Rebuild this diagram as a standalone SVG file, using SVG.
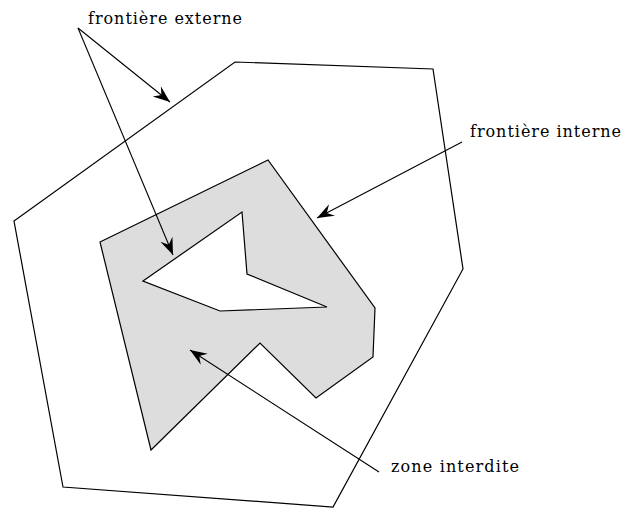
<svg xmlns="http://www.w3.org/2000/svg" width="623" height="508" viewBox="0 0 623 508">
<style>
.edge{fill:none;stroke:#000;stroke-width:1.2}
.lbl{font-family:"DejaVu Serif","Liberation Serif",serif;font-size:16px;fill:#000}
.arrow{fill:none;stroke:#000;stroke-width:1.1}
</style>
<defs>
<marker id="ah" markerUnits="userSpaceOnUse" markerWidth="20" markerHeight="14" refX="0" refY="0" viewBox="-18 -7 20 14" orient="auto">
<path d="M0,0 L-17,-6.5 L-11,0 L-17,6.5 Z" fill="#000"/>
</marker>
</defs>
<rect width="623" height="508" fill="#fff"/>
<g id="outer">
<polygon class="edge" points="235,62 433,69 463,269 333,507 63,487 14,221"/>
</g>
<g id="zone">
<path d="M100,242 L268,160 L375,308 L373,357 L316,398 L260,343 L151,450 Z M143,281 L242,212 L247,274 L327,307 L220,311 Z" fill="#dddddd" fill-rule="evenodd" stroke="#000" stroke-width="1.2"/>
</g>
<g id="connectors">
<line class="arrow" x1="78" y1="28" x2="170" y2="102" marker-end="url(#ah)"/>
<line class="arrow" x1="78" y1="28" x2="173" y2="255" marker-end="url(#ah)"/>
<line class="arrow" x1="462" y1="142" x2="317" y2="218" marker-end="url(#ah)"/>
<line class="arrow" x1="379" y1="472" x2="190" y2="350" marker-end="url(#ah)"/>
</g>
<g id="labels">
<text class="lbl" x="88" y="24" textLength="154" lengthAdjust="spacing">frontière externe</text>
<text class="lbl" x="470" y="137" textLength="151" lengthAdjust="spacing">frontière interne</text>
<text class="lbl" x="391" y="472" textLength="128" lengthAdjust="spacing">zone interdite</text>
</g>
</svg>
